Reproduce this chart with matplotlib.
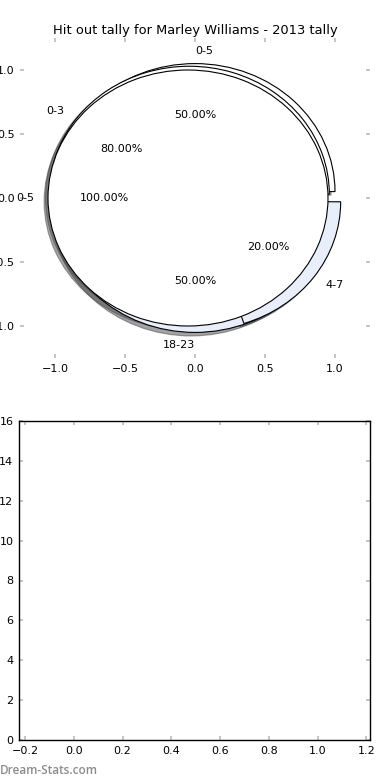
import matplotlib
matplotlib.use("Agg")
import matplotlib.pyplot as plt

# ---- data ----
title = "Hit out tally for Marley Williams - 2013 tally"
pie3_labels = ["0-5", "18-23"]
pie3_values = [1, 1]
pie2_labels = ["0-3", "4-7"]
pie2_values = [4, 1]
pie1_labels = ["0-5"]
pie1_values = [1]
top_ticks = [-1.0, -0.5, 0.0, 0.5, 1.0]
bottom_xticks = [-0.2, 0.0, 0.2, 0.4, 0.6, 0.8, 1.0, 1.2]
bottom_yticks = [0, 2, 4, 6, 8, 10, 12, 14, 16]

colors = ["white", "#E8EEFA"]
fs = 8

fig = plt.figure(figsize=(3.9, 7.8), dpi=100)
ax1 = fig.add_axes([20/390, 1-358/780, 350/390, 320/780])
ax2 = fig.add_axes([19/390, 1-740/780, 351/390, 319/780])

wp = dict(edgecolor="black", linewidth=0.8)
for vals, labs in [(pie3_values, pie3_labels), (pie2_values, pie2_labels), (pie1_values, pie1_labels)]:
    wedges, texts, autotexts = ax1.pie(
        vals, labels=labs, colors=colors[:len(vals)], explode=[0.05]*len(vals),
        autopct="%1.2f%%", shadow=True, wedgeprops=wp,
        textprops=dict(fontsize=fs))
    for t in texts:
        x, y = t.get_position()
        if abs(x) < 1e-6:
            t.set_horizontalalignment("left" if y > 0 else "right")

ax1.set_aspect("auto")
ax1.set_xlim(-1.25, 1.25)
ax1.set_ylim(-1.25, 1.25)
ax1.set_frame_on(False)
ax1.set_xticks(top_ticks)
ax1.set_yticks(top_ticks)
ax1.set_title(title, fontsize=9.4, pad=3)

ax2.set_xlim(-0.225, 1.215)
ax2.set_ylim(0, 16)
ax2.set_xticks(bottom_xticks)
ax2.set_yticks(bottom_yticks)

for ax in (ax1, ax2):
    ax.tick_params(direction="in", length=3, width=1.2, color="#bbbbbb",
                   labelcolor="black", labelsize=fs, top=True, right=True, pad=4)
for s in ax2.spines.values():
    s.set_linewidth(1.0)

fig.text(0.0, 10/780, "Dream-Stats.com", color="#8c8c8c", fontsize=8.5,
         family=["Open Sans", "DejaVu Sans"], fontweight="semibold",
         ha="left", va="center")

fig.savefig("out.png", dpi=100)
